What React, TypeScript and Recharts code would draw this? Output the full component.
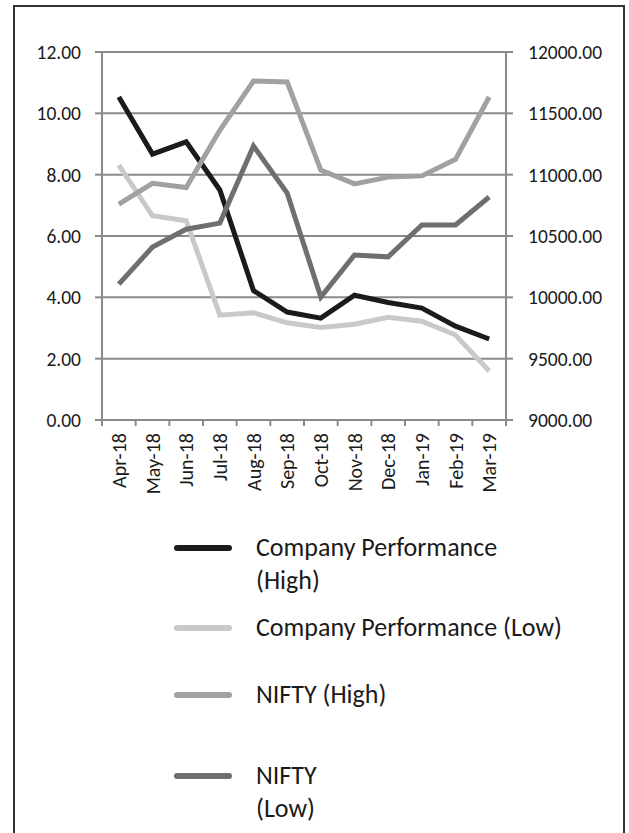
import React from 'react';
import { LineChart, Line, XAxis, YAxis, CartesianGrid, Legend } from 'recharts';

const months = ['Apr-18', 'May-18', 'Jun-18', 'Jul-18', 'Aug-18', 'Sep-18', 'Oct-18', 'Nov-18', 'Dec-18', 'Jan-19', 'Feb-19', 'Mar-19'];
const companyHigh = [10.53, 8.67, 9.07, 7.5, 4.22, 3.52, 3.32, 4.07, 3.83, 3.65, 3.06, 2.64];
const companyLow = [8.31, 6.66, 6.5, 3.42, 3.5, 3.17, 3.02, 3.12, 3.35, 3.22, 2.77, 1.6];
const niftyHigh = [10760, 10930, 10895, 11362, 11763, 11755, 11037, 10925, 10980, 10990, 11125, 11633];
const niftyLow = [10108, 10410, 10555, 10605, 11233, 10850, 10003, 10345, 10330, 10590, 10590, 10818];
const leftTicks = [0, 2, 4, 6, 8, 10, 12];
const rightTicks = [9000, 9500, 10000, 10500, 11000, 11500, 12000];
const seriesNames = ['Company Performance (High)', 'Company Performance (Low)', 'NIFTY (High)', 'NIFTY (Low)'];
const legendLines: Record<string, string[]> = {
  'Company Performance (High)': ['Company Performance', '(High)'],
  'Company Performance (Low)': ['Company Performance (Low)'],
  'NIFTY (High)': ['NIFTY (High)'],
  'NIFTY (Low)': ['NIFTY', '(Low)'],
};

const data = months.map((m, i) => ({
  month: m,
  pos: i + 0.5,
  ch: companyHigh[i],
  cl: companyLow[i],
  nh: niftyHigh[i],
  nl: niftyLow[i],
}));

const xTicks: number[] = [];
for (let i = 0; i <= months.length * 2; i++) xTicks.push(i / 2);

const FONT = 'Carlito, Lato, sans-serif';
const TEXT = '#1a1a1a';
const GRID = '#8a8a8a';
const COLORS = ['#1b1b1b', '#c9c9c9', '#a1a1a1', '#6f6f6f'];
const legendTops = [531, 611, 678, 759];

const XTick = (props: any) => {
  const { x, y, payload } = props;
  const v = payload.value;
  if (Number.isInteger(v)) {
    return <line x1={x} y1={y} x2={x} y2={y + 6} stroke={GRID} strokeWidth={2} />;
  }
  const label = months[Math.floor(v)];
  const ty = y + 13;
  return (
    <text
      x={x}
      y={ty}
      transform={`rotate(-90 ${x} ${ty})`}
      textAnchor="end"
      dominantBaseline="central"
      fontFamily={FONT}
      fontSize={20}
      fill={TEXT}
    >
      {label}
    </text>
  );
};

const LegendContent = (props: any) => {
  const payload = props.payload || [];
  return (
    <div style={{ position: 'relative', width: 629, height: 833 }}>
      {payload.map((p: any, i: number) => {
        const lines = legendLines[p.value] || [p.value];
        return (
          <div key={p.value} style={{ position: 'absolute', left: 0, top: legendTops[i], width: 629 }}>
            <svg width={70} height={33} style={{ position: 'absolute', left: 168, top: 0 }}>
              <line x1={9} y1={17} x2={61} y2={17} stroke={p.color} strokeWidth={6} strokeLinecap="round" />
            </svg>
            <div
              style={{
                position: 'absolute',
                left: 256,
                top: 0,
                fontFamily: FONT,
                fontSize: 26,
                lineHeight: '33px',
                color: TEXT,
                whiteSpace: 'nowrap',
              }}
            >
              {lines.map((l) => (
                <div key={l}>{l}</div>
              ))}
            </div>
          </div>
        );
      })}
    </div>
  );
};

export default function App() {
  return (
    <div style={{ position: 'absolute', left: 0, top: 0, width: 629, height: 833, overflow: 'hidden', background: '#fff' }}>
      <div
        style={{
          position: 'absolute',
          left: 13,
          top: 5,
          width: 612,
          height: 900,
          border: '2px solid #333',
          boxSizing: 'border-box',
        }}
      />
      <div style={{ position: 'absolute', left: 0, top: 0 }}>
        <LineChart width={629} height={833} data={data} margin={{ top: 52, right: 23, left: 42, bottom: 323 }}>
          <CartesianGrid yAxisId="left" vertical={false} stroke={GRID} strokeWidth={2} />
          <XAxis
            dataKey="pos"
            type="number"
            domain={[0, 12]}
            ticks={xTicks}
            interval={0}
            tick={<XTick />}
            tickLine={false}
            tickSize={0}
            tickMargin={0}
            height={90}
            axisLine={{ stroke: GRID, strokeWidth: 2 }}
          />
          <YAxis
            yAxisId="left"
            orientation="left"
            width={60}
            domain={[0, 12]}
            ticks={leftTicks}
            interval={0}
            tickFormatter={(v: number) => v.toFixed(2)}
            tickSize={7}
            tickMargin={14}
            tick={{ fontFamily: FONT, fontSize: 19.5, fill: TEXT }}
            tickLine={{ stroke: GRID, strokeWidth: 2 }}
            axisLine={{ stroke: GRID, strokeWidth: 2 }}
          />
          <YAxis
            yAxisId="right"
            orientation="right"
            width={100}
            domain={[9000, 12000]}
            ticks={rightTicks}
            interval={0}
            tickFormatter={(v: number) => v.toFixed(2)}
            tickSize={7}
            tickMargin={15}
            tick={{ fontFamily: FONT, fontSize: 19.5, fill: TEXT }}
            tickLine={{ stroke: GRID, strokeWidth: 2 }}
            axisLine={{ stroke: GRID, strokeWidth: 2 }}
          />
          <Legend
            layout="vertical"
            align="center"
            verticalAlign="middle"
            content={<LegendContent />}
            wrapperStyle={{ left: 0, top: 0, width: 629, height: 833 }}
          />
          <Line yAxisId="left" dataKey="ch" name={seriesNames[0]} stroke={COLORS[0]} strokeWidth={5} dot={false} isAnimationActive={false} />
          <Line yAxisId="left" dataKey="cl" name={seriesNames[1]} stroke={COLORS[1]} strokeWidth={5} dot={false} isAnimationActive={false} />
          <Line yAxisId="right" dataKey="nh" name={seriesNames[2]} stroke={COLORS[2]} strokeWidth={5} dot={false} isAnimationActive={false} />
          <Line yAxisId="right" dataKey="nl" name={seriesNames[3]} stroke={COLORS[3]} strokeWidth={5} dot={false} isAnimationActive={false} />
        </LineChart>
      </div>
    </div>
  );
}
